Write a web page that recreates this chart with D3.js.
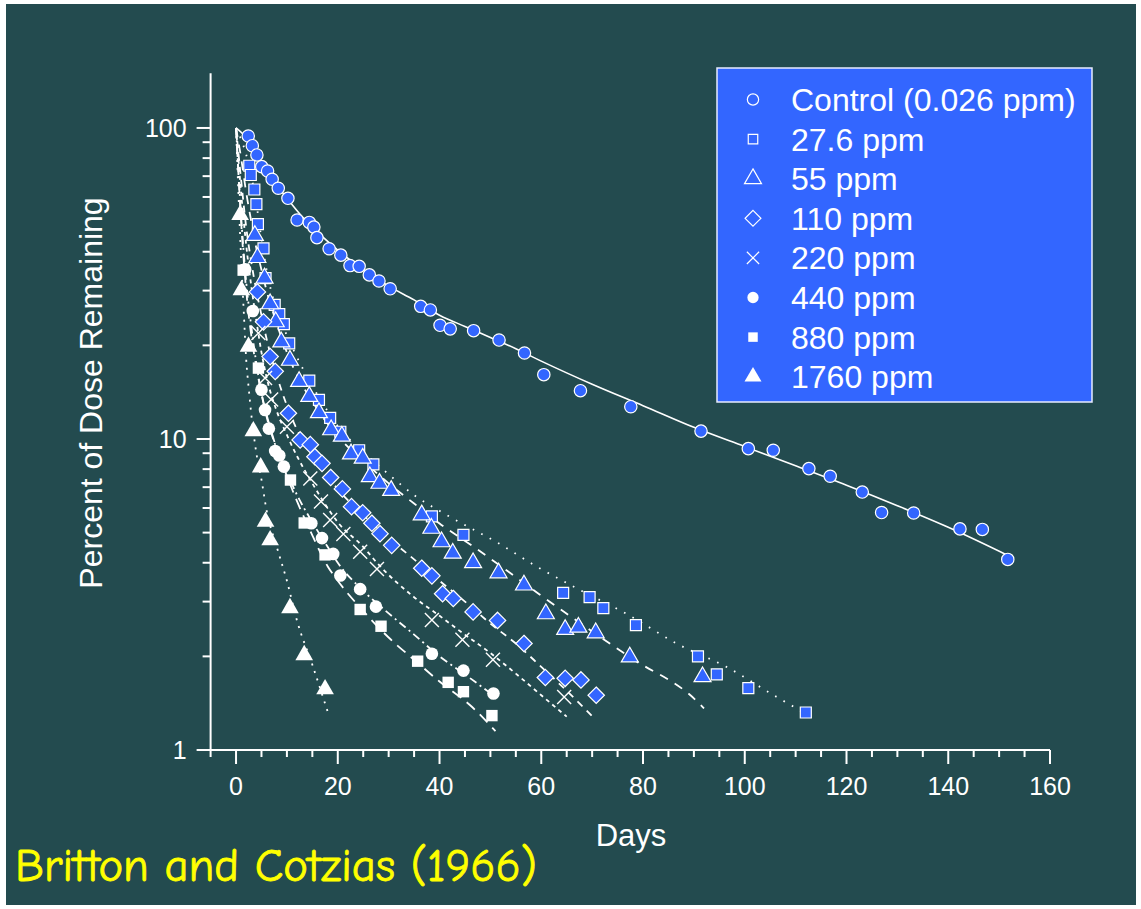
<!DOCTYPE html>
<html>
<head>
<meta charset="utf-8">
<script src="https://cdn.jsdelivr.net/npm/d3@7"></script>
<style>
html,body{margin:0;padding:0;background:#ffffff;}
svg{display:block;}
</style>
</head>
<body>
<svg id="chart" width="1141" height="909"></svg>
<script>
// ---------------- DATA ----------------
const seriesLabels = ["Control (0.026 ppm)", "27.6 ppm", "55 ppm", "110 ppm", "220 ppm", "440 ppm", "880 ppm", "1760 ppm"];
const xTickValues = [0, 20, 40, 60, 80, 100, 120, 140, 160];
const yTickValues = [1, 10, 100];
const xLabel = "Days";
const yLabel = "Percent of Dose Remaining";
const citation = "Britton and Cotzias (1966)";

// observed points [day, percent]
const ptsControl = [[2.4,94.2],[3.2,87.7],[4.1,81.9],[5.05,75.1],[6.2,72.7],[7.1,68.4],[8.3,64.0],[10.2,59.4],[12.0,50.6],[14.4,49.7],[15.3,48.0],[15.9,44.4],[18.3,40.9],[20.6,39.0],[22.4,36.1],[24.2,35.9],[26.2,33.7],[28.1,32.2],[30.3,30.4],[36.3,26.7],[38.2,26.0],[40.1,23.2],[42.1,22.6],[46.7,22.3],[51.7,20.8],[56.7,18.9],[60.5,16.1],[67.7,14.3],[77.6,12.7],[91.4,10.6],[100.7,9.31],[105.6,9.20],[112.6,8.03],[116.8,7.59],[123.1,6.75],[126.9,5.80],[133.2,5.78],[142.3,5.14],[146.7,5.12],[151.7,4.10]];
const pts27 = [[2.6,75.6],[2.9,70.6],[3.6,63.4],[4.0,56.9],[4.3,49.1],[5.4,41.0],[5.8,32.9],[7.6,27.0],[8.5,25.2],[9.4,23.4],[10.45,20.3],[14.4,15.4],[16.3,13.35],[18.5,11.7],[20.5,10.55],[24.2,9.2],[27.0,8.29],[38.5,5.64],[44.7,4.92],[64.3,3.2],[69.5,3.1],[72.2,2.86],[78.6,2.52],[90.8,2.0],[94.5,1.75],[100.7,1.58],[112.0,1.32]];
const pts55 = [[3.7,45.1],[4.2,38.3],[5.6,32.9],[6.7,27.2],[7.8,23.8],[8.9,20.5],[10.6,17.9],[12.4,15.3],[14.4,13.7],[16.3,12.15],[18.7,10.7],[20.8,10.2],[22.6,8.95],[24.9,8.67],[26.3,7.56],[28.2,7.2],[30.5,6.83],[36.5,5.7],[38.4,5.16],[40.4,4.67],[42.6,4.29],[46.6,4.0],[51.6,3.71],[56.6,3.39],[60.9,2.74],[64.7,2.44],[67.3,2.48],[70.7,2.38],[77.4,1.99],[91.7,1.72]];
const pts110 = [[4.2,29.7],[5.4,23.8],[6.7,18.4],[7.7,16.5],[10.3,12.1],[12.6,9.93],[14.6,9.59],[15.5,8.77],[16.9,8.35],[18.6,7.52],[20.9,6.91],[22.7,6.06],[24.9,5.79],[26.7,5.36],[28.3,4.96],[30.6,4.55],[36.5,3.84],[38.5,3.63],[40.6,3.18],[42.7,3.07],[46.6,2.78],[51.4,2.61],[56.6,2.2],[60.8,1.71],[64.7,1.7],[67.8,1.68],[70.8,1.5]];
const pts220 = [[4.4,21.9],[5.7,15.7],[6.9,13.4],[10.0,10.95],[14.6,7.47],[16.7,6.29],[18.5,5.49],[21.1,4.95],[24.4,4.34],[27.7,3.82],[38.5,2.62],[44.5,2.26],[50.5,1.95],[64.5,1.48]];
const pts440 = [[1.8,35.1],[3.3,25.8],[5.0,14.4],[5.7,12.4],[6.45,10.8],[7.7,9.15],[8.5,8.85],[9.4,8.15],[14.8,5.36],[16.9,4.8],[19.1,4.27],[20.5,3.64],[24.4,3.29],[27.5,2.89],[38.5,2.04],[44.7,1.8],[50.6,1.52]];
const pts880 = [[1.4,34.9],[4.4,16.9],[10.7,7.38],[13.4,5.37],[17.5,4.24],[24.4,2.83],[28.5,2.5],[35.7,1.93],[41.7,1.65],[44.7,1.54],[50.3,1.29]];
const pts1760 = [[0.8,52.5],[1.05,30.1],[2.45,19.8],[3.4,10.6],[4.85,8.11],[5.8,5.42],[6.7,4.73],[10.6,2.86],[13.4,2.02],[17.5,1.57]];

// fitted curves [day, percent]
const fitControl = [[0,100],[2.5,91],[5,77],[7.5,67],[10,59.5],[12.5,53],[15,48],[20,40.5],[25,35],[30,31],[35,28],[40,25],[45,23],[50,21.2],[55,19.5],[60,17.8],[70,15],[80,12.8],[90,10.9],[100,9.45],[110,8.2],[120,7.1],[130,6.1],[140,5.2],[152,4.2]];
const fit27 = [[0,100],[2,82],[3,70],[4,57],[5,44],[6,35],[7,29.5],[8,26],[10,21.5],[12,18.3],[15,14.8],[18,12.3],[20,11],[25,9.1],[30,7.7],[35,6.6],[41.4,5.7],[51.6,4.62],[59.1,3.89],[67,3.31],[77.1,2.72],[86.6,2.2],[96.4,1.85],[106.3,1.48],[112,1.31]];
const fit55 = [[0,100],[1,80],[2,62],[3,50],[4,41],[5,35],[6,30],[8,23.5],[10,19],[12,16],[15,13.2],[18,11.2],[20,10.2],[25,8.5],[30,7.2],[35,6.2],[40,5.35],[46.8,4.49],[53.3,3.77],[59.6,3.17],[66.3,2.65],[77.8,1.97],[90.3,1.45],[92,1.36]];
const fit110 = [[0,100],[1,68],[2,48],[3,37],[4,30],[5,25],[6,21],[8,16],[10,12.8],[12,10.7],[15,8.9],[18,7.6],[20,6.9],[25,5.7],[30,4.8],[35,4.1],[40,3.5],[45,3.0],[50,2.55],[55,2.2],[60,1.85],[65,1.55],[70.5,1.26]];
const fit220 = [[0,100],[1,62],[2,42],[3,31],[4,24],[5,19],[6,15.8],[8,12.3],[10,10.3],[12,8.8],[15,7.2],[18,6.0],[20,5.4],[25,4.5],[28,3.95],[35,3.1],[40,2.7],[44.5,2.38],[50,2.05],[55,1.76],[60,1.5],[65,1.28]];
const fit440 = [[0,100],[1,52],[2,32],[3,23],[4,17.5],[5,14],[6,11.8],[8,9.3],[10,7.8],[12,6.6],[15,5.4],[18,4.5],[20,4.0],[25,3.25],[30,2.75],[35,2.35],[40,2.0],[45,1.75],[51,1.48]];
const fit880 = [[0,100],[1,50],[2,30],[3,21.5],[4,17],[5,14],[6,12],[8,9.3],[10,7.6],[12,6.3],[15,4.9],[18,3.9],[20,3.5],[25,2.8],[30,2.3],[35,1.95],[40,1.66],[46.3,1.38],[51,1.15]];
const fit1760 = [[0,100],[0.5,60],[1,38],[1.5,26],[2,18],[2.5,14.5],[3,12],[4,9],[5,7.4],[6,5.9],[8,4.5],[10,3.5],[12,2.6],[15,1.88],[18,1.33]];

// ---------------- CHART ----------------
const W = 1141, H = 909;
const BG = "#234B4F", BLUE = "#3366FF";
const svg = d3.select("#chart");

svg.append("rect").attr("x", 6).attr("y", 4).attr("width", W - 11).attr("height", H - 8).attr("fill", BG);

const x = d3.scaleLinear().domain([-5, 160]).range([210.6, 1050]);
const y = d3.scaleLog().domain([1, 150]).range([750, 73.2]);

// custom symbols
const symX = { draw(ctx, size) { const r = Math.sqrt(size) / 2; ctx.moveTo(-r, -r); ctx.lineTo(r, r); ctx.moveTo(r, -r); ctx.lineTo(-r, r); } };
const symDiamond = { draw(ctx, size) { const r = Math.sqrt(size / 2); ctx.moveTo(0, -r); ctx.lineTo(r, 0); ctx.lineTo(0, r); ctx.lineTo(-r, 0); ctx.closePath(); } };

const series = [
  { name: seriesLabels[0], pts: ptsControl, fit: fitControl, type: d3.symbolCircle, size: 120, fill: BLUE, stroke: "#fff", dash: null, hollowLegend: true },
  { name: seriesLabels[1], pts: pts27, fit: fit27, type: d3.symbolSquare, size: 121, fill: BLUE, stroke: "#fff", dash: "1.6,8", hollowLegend: true },
  { name: seriesLabels[2], pts: pts55, fit: fit55, type: d3.symbolTriangle, size: 125, fill: BLUE, stroke: "#fff", dash: "9,8", hollowLegend: true },
  { name: seriesLabels[3], pts: pts110, fit: fit110, type: symDiamond, size: 135, fill: BLUE, stroke: "#fff", dash: "7,6", hollowLegend: true },
  { name: seriesLabels[4], pts: pts220, fit: fit220, type: symX, size: 196, fill: "none", stroke: "#fff", dash: "4,4", hollowLegend: true },
  { name: seriesLabels[5], pts: pts440, fit: fit440, type: d3.symbolCircle, size: 125, fill: "#fff", stroke: "none", dash: "8,4,2,4", hollowLegend: false },
  { name: seriesLabels[6], pts: pts880, fit: fit880, type: d3.symbolSquare, size: 130, fill: "#fff", stroke: "none", dash: "11,7", hollowLegend: false },
  { name: seriesLabels[7], pts: pts1760, fit: fit1760, type: d3.symbolTriangle, size: 135, fill: "#fff", stroke: "none", dash: "2,6", hollowLegend: false }
];

// axes
const gx = svg.append("g").attr("transform", "translate(0,750)");
const gy = svg.append("g").attr("transform", "translate(210.6,0)");

gx.append("line").attr("x1", 197).attr("x2", x(160)).attr("y1", 0).attr("y2", 0).attr("stroke", "#fff").attr("stroke-width", 2);
gx.selectAll("line.tk").data(d3.range(-5, 161, 5)).join("line").attr("class", "tk")
  .attr("x1", d => x(d)).attr("x2", d => x(d)).attr("y1", 0).attr("y2", d => (d % 20 === 0 ? 14 : 7))
  .attr("stroke", "#fff").attr("stroke-width", 2);
gx.selectAll("text").data(xTickValues).join("text")
  .attr("x", d => x(d)).attr("y", 45).attr("text-anchor", "middle")
  .attr("font-family", "Liberation Sans, Arial, sans-serif").attr("font-size", 25).attr("fill", "#fff")
  .text(d => d);

gy.append("line").attr("x1", 0).attr("x2", 0).attr("y1", y(150)).attr("y2", 750).attr("stroke", "#fff").attr("stroke-width", 2);
const yMinor = [];
[1, 10].forEach(dec => { for (let k = 2; k <= 9; k++) yMinor.push(dec * k); });
gy.selectAll("line.mn").data(yMinor).join("line").attr("class", "mn")
  .attr("x1", -8).attr("x2", 0).attr("y1", d => y(d)).attr("y2", d => y(d)).attr("stroke", "#fff").attr("stroke-width", 2);
gy.selectAll("line.mj").data(yTickValues).join("line").attr("class", "mj")
  .attr("x1", -14).attr("x2", 0).attr("y1", d => y(d)).attr("y2", d => y(d)).attr("stroke", "#fff").attr("stroke-width", 2);
gy.selectAll("text").data(yTickValues).join("text")
  .attr("x", -24).attr("y", d => y(d) + 9).attr("text-anchor", "end")
  .attr("font-family", "Liberation Sans, Arial, sans-serif").attr("font-size", 25).attr("fill", "#fff")
  .text(d => d);

// axis titles
svg.append("text").attr("x", 631).attr("y", 846).attr("text-anchor", "middle")
  .attr("font-family", "Liberation Sans, Arial, sans-serif").attr("font-size", 31).attr("fill", "#fff").text(xLabel);
svg.append("text").attr("transform", "translate(102,393) rotate(-90)").attr("text-anchor", "middle")
  .attr("font-family", "Liberation Sans, Arial, sans-serif").attr("font-size", 32).attr("fill", "#fff").text(yLabel);

// fitted lines
const line = d3.line().x(d => x(d[0])).y(d => y(d[1])).curve(d3.curveMonotoneX);
const gLines = svg.append("g");
series.forEach(s => {
  gLines.append("path").attr("d", line(s.fit)).attr("fill", "none").attr("stroke", "#fff")
    .attr("stroke-width", s.dash ? 1.8 : 1.6).attr("stroke-dasharray", s.dash);
});

// markers
const gPts = svg.append("g");
series.forEach(s => {
  const sym = d3.symbol().type(s.type).size(s.size);
  gPts.append("g").selectAll("path").data(s.pts).join("path")
    .attr("transform", d => `translate(${x(d[0])},${y(d[1])})`)
    .attr("d", sym)
    .attr("fill", s.fill)
    .attr("stroke", s.stroke)
    .attr("stroke-width", s.type === symX ? 1.4 : 1.2);
});

// legend
const lg = svg.append("g");
lg.append("rect").attr("x", 717).attr("y", 68).attr("width", 375).attr("height", 334)
  .attr("fill", BLUE).attr("stroke", "#e8ecff").attr("stroke-width", 1.5);
series.forEach((s, i) => {
  const cy = 99.5 + i * 39.6;
  const legSize = s.type === symX ? 150 : (s.type === d3.symbolSquare ? 90 : (s.type === d3.symbolCircle ? 100 : 125));
  lg.append("path").attr("transform", `translate(753,${cy})`)
    .attr("d", d3.symbol().type(s.type).size(legSize))
    .attr("fill", s.hollowLegend ? "none" : "#fff")
    .attr("stroke", s.hollowLegend ? "#fff" : "none")
    .attr("stroke-width", 1.2);
  lg.append("text").attr("x", 791).attr("y", cy + 11.5)
    .attr("font-family", "Liberation Sans, Arial, sans-serif").attr("font-size", 32).attr("fill", "#fff")
    .text(s.name);
});

// citation
svg.append("text").attr("x", 15).attr("y", 881)
  .attr("font-family", "'Comic Sans MS', 'Comic Neue', 'DejaVu Sans', sans-serif").attr("font-size", 46)
  .attr("fill", "#FFFF00").attr("stroke", "#FFFF00").attr("stroke-width", 0.8)
  .attr("textLength", 522).attr("lengthAdjust", "spacingAndGlyphs")
  .text(citation);
</script>
</body>
</html>
